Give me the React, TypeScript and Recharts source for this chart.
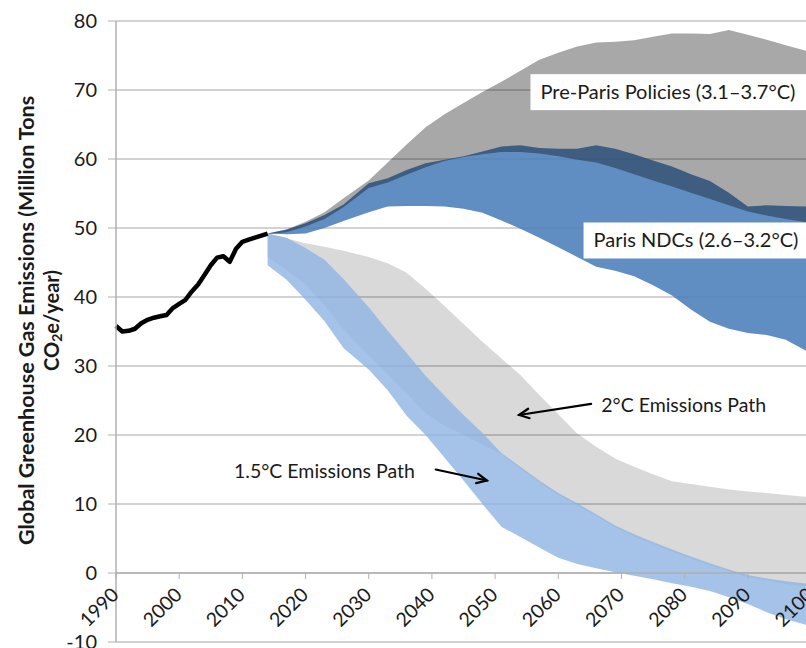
import {
  Area,
  CartesianGrid,
  ComposedChart,
  Line,
  ReferenceDot,
  ReferenceLine,
  XAxis,
  YAxis,
} from "recharts";

// historical emissions (black line)
const HIST_YEARS = [
  1990, 1991, 1992, 1993, 1994, 1995, 1996, 1997, 1998, 1999, 2000, 2001, 2002,
  2003, 2004, 2005, 2006, 2007, 2008, 2009, 2010, 2011, 2012, 2013, 2014,
];
const HIST_VALUES = [
  35.8, 35.0, 35.1, 35.4, 36.2, 36.7, 37.0, 37.2, 37.4, 38.4, 39.0, 39.6, 40.8,
  41.8, 43.2, 44.6, 45.7, 45.9, 45.1, 47.0, 48.0, 48.3, 48.6, 48.9, 49.2,
];

// projection bands, all sampled on the same years
const BAND_YEARS = [
  2014, 2017, 2020, 2023, 2026, 2030, 2033, 2036, 2039, 2042, 2045, 2048, 2051,
  2054, 2057, 2060, 2063, 2066, 2069, 2072, 2075, 2078, 2081, 2084, 2087, 2090,
  2093, 2096, 2100,
];
const PRE_PARIS_HIGH = [
  49.2, 49.8, 50.9, 52.3, 54.3, 56.9, 59.5, 62.1, 64.6, 66.5, 68.1, 69.7, 71.2,
  72.8, 74.4, 75.4, 76.3, 76.9, 77.0, 77.2, 77.7, 78.2, 78.2, 78.1, 78.7, 78.0,
  77.3, 76.5, 75.5,
];
const PRE_PARIS_LOW = [
  49.1, 49.4, 50.2, 51.3, 53.0, 55.8, 56.6, 57.7, 58.8, 59.7, 60.3, 60.7, 61.0,
  61.0, 60.8, 60.4, 59.9, 59.5, 58.7, 57.8, 56.9, 56.0, 55.1, 54.2, 53.3, 52.4,
  51.8, 51.3, 50.7,
];
const NDC_HIGH = [
  49.2, 49.8, 50.7, 51.9, 53.4, 56.5, 57.2, 58.4, 59.4, 59.9, 60.4, 61.1, 61.8,
  62.0, 61.6, 61.5, 61.5, 62.0, 61.5, 60.7, 59.8, 58.9, 57.8, 56.8, 55.1, 53.1,
  53.3, 53.2, 53.1,
];
const NDC_LOW = [
  49.2, 49.1, 49.2, 50.0, 51.0, 52.3, 53.1, 53.2, 53.2, 53.1, 52.8, 52.2, 51.1,
  49.9, 48.6, 47.2, 45.8, 44.4, 43.8, 43.0, 41.7, 40.2, 38.2, 36.4, 35.4, 34.8,
  34.5, 33.8, 31.8,
];
const TWO_C_HIGH = [
  49.2, 48.5, 47.8, 47.3, 46.7, 45.8, 44.9, 43.5, 41.2, 38.7, 36.1, 33.5, 31.1,
  28.7, 25.8, 23.0, 20.2, 18.3, 16.6, 15.4, 14.3, 13.3, 12.9, 12.5, 12.1, 11.8,
  11.6, 11.3, 11.0,
];
const TWO_C_LOW = [
  45.8, 43.9, 41.8, 38.8, 35.3, 31.6, 28.8, 26.0, 23.2, 21.3, 20.0, 18.6, 17.2,
  15.1, 13.1, 11.3, 9.8, 8.3, 6.6, 5.3, 4.2, 3.1, 2.1, 1.1, 0.2, -0.6, -1.1,
  -1.6, -2.0,
];
const ONE5_C_HIGH = [
  49.2, 48.6, 47.1, 45.4, 42.6, 38.5, 35.1, 31.9, 28.6, 25.7, 22.9, 20.3, 17.4,
  15.4, 13.4, 11.6, 10.1, 8.5, 6.9, 5.6, 4.5, 3.4, 2.4, 1.4, 0.5, -0.3, -0.8,
  -1.2, -1.6,
];
const ONE5_C_LOW = [
  44.6, 42.5, 39.6, 36.5, 32.6, 29.5, 26.5, 22.8, 20.0, 16.7, 13.4, 10.0, 6.7,
  5.2, 3.7, 2.2, 1.3, 0.7, 0.1, -0.4, -0.9, -1.5, -2.0, -2.6, -3.5, -4.5, -5.7,
  -6.7, -7.7,
];

const X_TICKS = [1990, 2000, 2010, 2020, 2030, 2040, 2050, 2060, 2070, 2080, 2090, 2100];
const Y_TICKS = [-10, 0, 10, 20, 30, 40, 50, 60, 70, 80];
const Y_MIN = -10;
const Y_MAX = 80;

const W = 830;
const H = 648;
const MARGIN = { top: 21, right: 19, bottom: 5, left: 0 };
const X_AXIS_H = 1;
const PLOT_H = H - MARGIN.top - MARGIN.bottom - X_AXIS_H;
const ZERO_Y = MARGIN.top + (PLOT_H * Y_MAX) / (Y_MAX - Y_MIN);

const FONT = "Lato, 'Open Sans', sans-serif";
const AXIS_GRAY = "#b0b0b0";
const GRID_GRAY = "#a6a6a6";
const TEXT = "#1a1a1a";

type Row = { year: number; [k: string]: any };

function buildRows(): Row[] {
  const byYear = new Map<number, Row>();
  const row = (y: number) => {
    if (!byYear.has(y)) byYear.set(y, { year: y });
    return byYear.get(y)!;
  };
  HIST_YEARS.forEach((y, i) => {
    row(y).hist = HIST_VALUES[i];
  });
  BAND_YEARS.forEach((y, i) => {
    const r = row(y);
    r.preParis = [PRE_PARIS_LOW[i], PRE_PARIS_HIGH[i]];
    r.ndc = [NDC_LOW[i], NDC_HIGH[i]];
    r.twoC = [TWO_C_LOW[i], TWO_C_HIGH[i]];
    r.one5C = [ONE5_C_LOW[i], ONE5_C_HIGH[i]];
  });
  return [...byYear.values()].sort((a, b) => a.year - b.year);
}

const DATA = buildRows();

// x labels hang under the y=0 line, like the Excel original
function XTick(props: any) {
  const { x, payload } = props;
  const tx = x + 4;
  const ty = ZERO_Y + 23;
  return (
    <g>
      <line x1={x} x2={x} y1={ZERO_Y} y2={ZERO_Y + 6} stroke={AXIS_GRAY} />
      <text
        x={tx}
        y={ty}
        textAnchor="end"
        transform={`rotate(-45 ${tx} ${ty})`}
        fontFamily={FONT}
        fontSize={19.5}
        fill={TEXT}
      >
        {payload.value}
      </text>
    </g>
  );
}

function YTitle(props: any) {
  const vb = props.viewBox || { x: 0, y: MARGIN.top, height: PLOT_H };
  const cy = vb.y + vb.height / 2 - 11;
  const x1 = vb.x + 26;
  const x2 = vb.x + 51;
  const common = {
    textAnchor: "middle" as const,
    dominantBaseline: "central" as const,
    fontFamily: FONT,
    fontWeight: 700,
    fill: TEXT,
  };
  return (
    <g>
      <text x={x1} y={cy} transform={`rotate(-90 ${x1} ${cy})`} fontSize={21.5} {...common}>
        Global Greenhouse Gas Emissions (Million Tons
      </text>
      <text x={x2} y={cy} transform={`rotate(-90 ${x2} ${cy})`} fontSize={20} {...common}>
        CO<tspan fontSize={14} dy={5}>2</tspan>
        <tspan dy={-5}>e/year)</tspan>
      </text>
    </g>
  );
}

function LabelBox({ cx, cy, text }: { cx: number; cy: number; text: string }) {
  return (
    <g>
      <rect x={cx} y={cy} width={320} height={36} fill="#fff" />
      <text x={cx + 10} y={cy + 25} fontFamily={FONT} fontSize={20} fill={TEXT}>
        {text}
      </text>
    </g>
  );
}

function PlainLabel({
  cx,
  cy,
  text,
  anchor = "start",
}: {
  cx: number;
  cy: number;
  text: string;
  anchor?: "start" | "end";
}) {
  return (
    <text x={cx} y={cy} textAnchor={anchor} fontFamily={FONT} fontSize={19.5} fill={TEXT}>
      {text}
    </text>
  );
}

function Arrow(props: any) {
  const { x1, y1, x2, y2 } = props;
  const ang = Math.atan2(y2 - y1, x2 - x1);
  const len = 11;
  const spread = 0.45;
  const ax = x2 - len * Math.cos(ang - spread);
  const ay = y2 - len * Math.sin(ang - spread);
  const bx = x2 - len * Math.cos(ang + spread);
  const by = y2 - len * Math.sin(ang + spread);
  return (
    <g stroke="#000" strokeWidth={2.2} fill="none" strokeLinecap="round">
      <line x1={x1} y1={y1} x2={x2} y2={y2} />
      <polyline points={`${ax},${ay} ${x2},${y2} ${bx},${by}`} strokeLinejoin="miter" />
    </g>
  );
}

export default function App() {
  return (
    <div
      style={{
        position: "absolute",
        left: 0,
        top: 0,
        width: 806,
        height: 648,
        overflow: "hidden",
        background: "#fff",
      }}
    >
      <ComposedChart width={W} height={H} data={DATA} margin={MARGIN}>
        <CartesianGrid vertical={false} stroke={GRID_GRAY} />
        <XAxis
          dataKey="year"
          type="number"
          domain={[1990, 2100]}
          ticks={X_TICKS}
          interval={0}
          height={X_AXIS_H}
          axisLine={false}
          tickLine={false}
          tick={(p: any) => <XTick {...p} />}
        />
        <YAxis
          type="number"
          domain={[Y_MIN, Y_MAX]}
          ticks={Y_TICKS}
          interval={0}
          width={116}
          tickSize={8}
          tickMargin={11}
          axisLine={{ stroke: AXIS_GRAY, strokeWidth: 1.5 }}
          tickLine={{ stroke: AXIS_GRAY }}
          tick={{ fontFamily: FONT, fontSize: 20, fill: TEXT }}
          label={(p: any) => <YTitle {...p} />}
        />
        <ReferenceLine y={0} stroke={AXIS_GRAY} strokeWidth={1.5} />

        <Area
          dataKey="ndc"
          type="linear"
          stroke="none"
          fill="#4a7ebb"
          fillOpacity={0.88}
          isAnimationActive={false}
        />
        <Area
          dataKey="preParis"
          type="linear"
          stroke="none"
          fill="#000"
          fillOpacity={0.34}
          isAnimationActive={false}
        />
        <Area
          dataKey="twoC"
          type="linear"
          stroke="none"
          fill="#000"
          fillOpacity={0.15}
          isAnimationActive={false}
        />
        <Area
          dataKey="one5C"
          type="linear"
          stroke="none"
          fill="#8eb4e3"
          fillOpacity={0.8}
          isAnimationActive={false}
        />
        <Line
          dataKey="hist"
          type="linear"
          stroke="#000"
          strokeWidth={4.5}
          strokeLinejoin="round"
          dot={false}
          isAnimationActive={false}
        />

        <ReferenceDot
          x={2055.6}
          y={72.3}
          r={0}
          ifOverflow="visible"
          shape={(p: any) => (
            <LabelBox cx={p.cx} cy={p.cy} text="Pre-Paris Policies (3.1–3.7°C)" />
          )}
        />
        <ReferenceDot
          x={2064.0}
          y={50.8}
          r={0}
          ifOverflow="visible"
          shape={(p: any) => <LabelBox cx={p.cx} cy={p.cy} text="Paris NDCs (2.6–3.2°C)" />}
        />
        <ReferenceDot
          x={2066.8}
          y={23.3}
          r={0}
          ifOverflow="visible"
          shape={(p: any) => <PlainLabel cx={p.cx} cy={p.cy} text="2°C Emissions Path" />}
        />
        <ReferenceDot
          x={2037.3}
          y={13.8}
          r={0}
          ifOverflow="visible"
          shape={(p: any) => (
            <PlainLabel cx={p.cx} cy={p.cy} text="1.5°C Emissions Path" anchor="end" />
          )}
        />
        <ReferenceLine
          segment={[
            { x: 2065.2, y: 24.5 },
            { x: 2053.8, y: 22.9 },
          ]}
          ifOverflow="visible"
          shape={(p: any) => <Arrow {...p} />}
        />
        <ReferenceLine
          segment={[
            { x: 2040.6, y: 15.0 },
            { x: 2048.7, y: 13.4 },
          ]}
          ifOverflow="visible"
          shape={(p: any) => <Arrow {...p} />}
        />
      </ComposedChart>
    </div>
  );
}
